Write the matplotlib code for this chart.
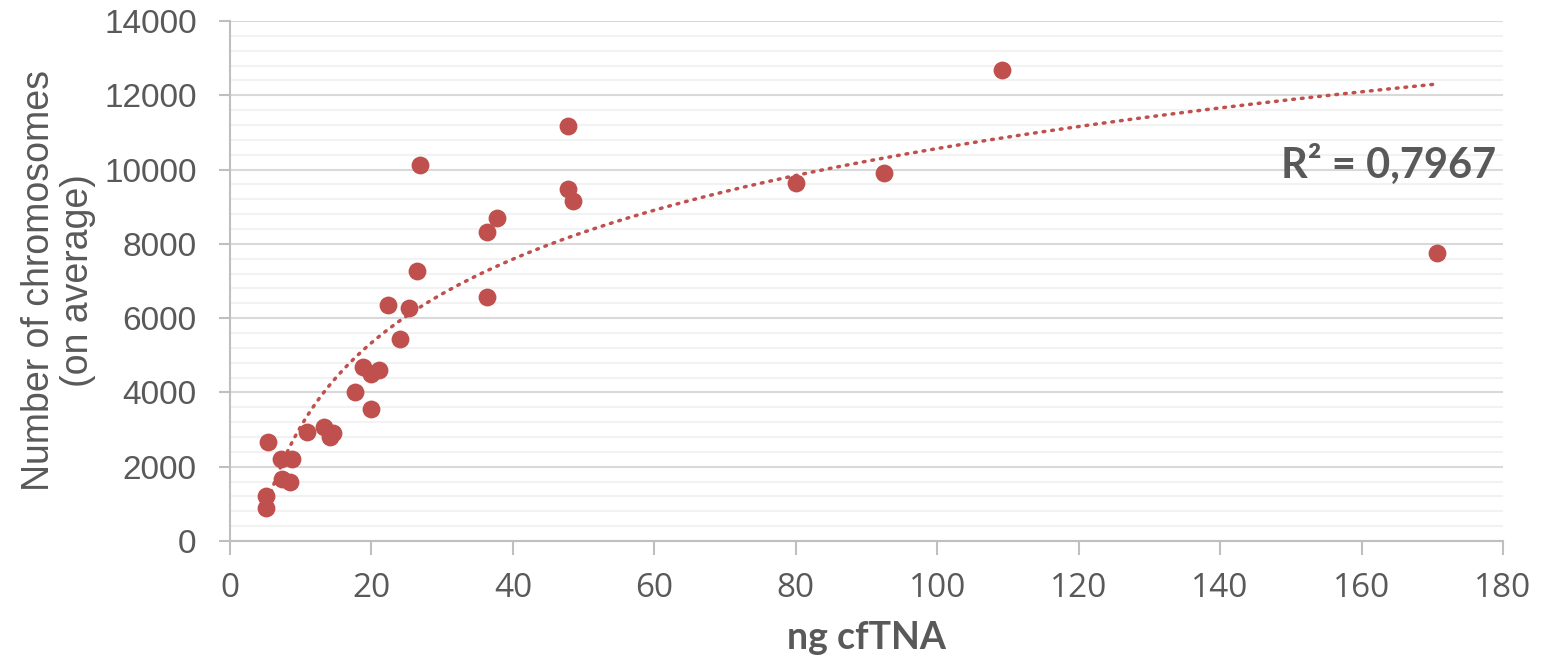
import matplotlib.pyplot as plt
from matplotlib.ticker import MultipleLocator
import numpy as np

# data (ng cfTNA vs. chromosomes on average)
ng_cftna = [5.05, 5.05, 5.37, 7.17, 8.8, 7.3, 8.5, 10.9, 13.3, 14.6, 14.1,
            17.7, 19.9, 18.8, 19.9, 21.0, 24.0, 22.3, 25.3, 26.5, 26.9,
            36.3, 36.3, 37.7, 47.8, 48.5, 47.8, 80.0, 92.5, 109.2, 170.7]
chromosomes = [880, 1220, 2657, 2207, 2199, 1669, 1597, 2926, 3061, 2916, 2791,
               4003, 3553, 4675, 4496, 4595, 5438, 6353, 6264, 7268, 10114,
               6560, 8310, 8695, 9468, 9161, 11172, 9646, 9916, 12679, 7762]
r2_label = "R² = 0,7967"

red = "#C0504D"
grey_txt = "#595959"

x = np.array(ng_cftna)
y = np.array(chromosomes)

# logarithmic trendline like excel's
a, b = np.polyfit(np.log(x), y, 1)
xt = np.linspace(x.min(), x.max(), 400)
yt = a * np.log(xt) + b

fig = plt.figure(figsize=(15.5, 6.65), dpi=100)
ax = fig.add_axes([0.1484, 0.1865, 0.9697 - 0.1484, 0.9684 - 0.1865])

ax.plot(xt, yt, color=red, lw=2.5, linestyle=(0, (0.5, 2.0)),
        dash_capstyle="round", zorder=3)
ax.scatter(x, y, s=165, color=red, zorder=4, linewidths=0)

ax.set_xlim(0, 180)
ax.set_ylim(0, 14000)
ax.xaxis.set_major_locator(MultipleLocator(20))
ax.yaxis.set_major_locator(MultipleLocator(2000))
ax.yaxis.set_minor_locator(MultipleLocator(400))

ax.grid(which="major", axis="y", color="#D9D9D9", lw=1.5)
ax.grid(which="minor", axis="y", color="#F2F2F2", lw=1.5)
ax.set_axisbelow(True)

for s in ["top", "right"]:
    ax.spines[s].set_visible(False)
for s in ["left", "bottom"]:
    ax.spines[s].set_color("#BFBFBF")
    ax.spines[s].set_linewidth(1.5)

ax.tick_params(axis="y", which="major", length=8, width=1.5, color="#BFBFBF",
               labelsize=24, labelcolor=grey_txt, pad=16)
ax.tick_params(axis="y", which="minor", length=0)
ax.tick_params(axis="x", which="major", length=10, width=1.5, color="#BFBFBF",
               labelsize=24, labelcolor=grey_txt, pad=12)
for lab in ax.get_yticklabels():
    lab.set_family("Liberation Sans")
for lab in ax.get_xticklabels():
    lab.set_family("Open Sans")

ax.set_ylabel("Number of chromosomes\n(on average)", fontsize=27,
              color=grey_txt, family="Liberation Sans", linespacing=1.08,
              labelpad=6)
ax.set_xlabel("ng cfTNA", fontsize=27, fontweight="bold", color=grey_txt,
              family="Lato", labelpad=12)

ax.text(0.9945, 0.725, r2_label, transform=ax.transAxes, ha="right",
        va="center", fontsize=30, fontweight="bold", color=grey_txt,
        family="Lato")

fig.savefig("out.png", dpi=100)
